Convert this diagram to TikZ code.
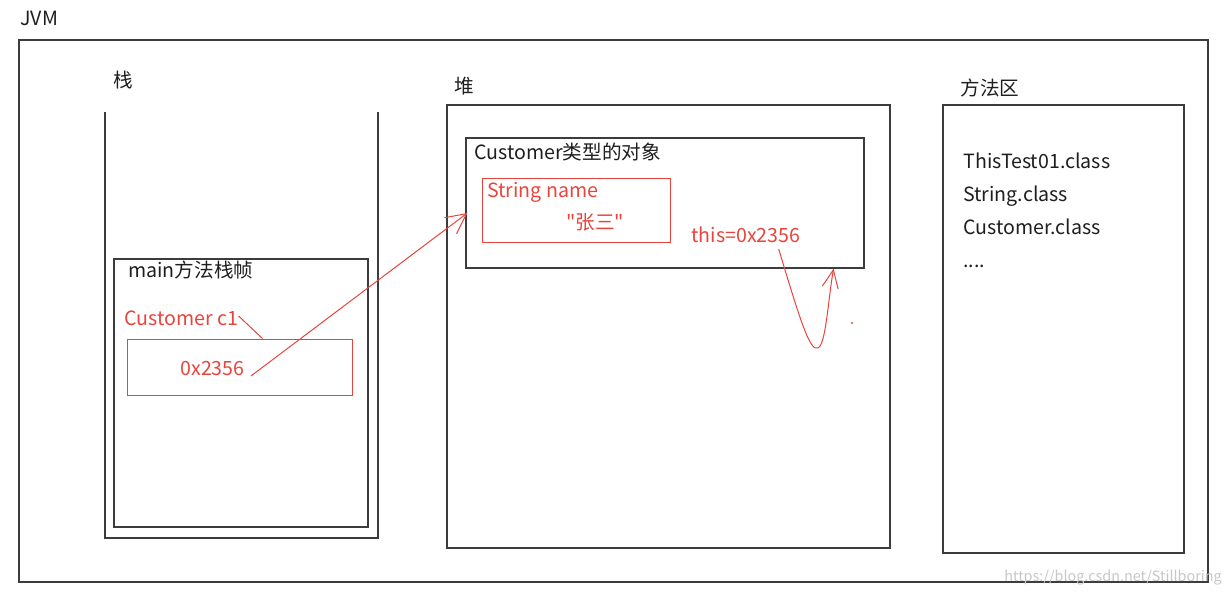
\documentclass[tikz,border=0pt]{standalone}
\usepackage{fontspec}
\setmainfont{Noto Sans CJK SC}[Ligatures=TeXOff]
\usetikzlibrary{arrows.meta,calc}
\definecolor{rosso}{RGB}{232,68,60}
\definecolor{bordo}{RGB}{60,60,60}
\definecolor{testo}{RGB}{30,30,30}
\tikzset{
    box/.style={draw=bordo, line width=0.6pt, inner sep=0pt},
    rbox/.style={draw=rosso, line width=0.5pt, inner sep=0pt},
    lbl/.style={anchor=west, inner sep=0pt, yshift=-1pt, text height=7.5pt, text depth=2pt, text=testo, font=\fontsize{9.8}{11}\selectfont},
    rlbl/.style={lbl, text=rosso},
    rline/.style={draw=rosso, line width=0.5pt}
}
\begin{document}
\begin{tikzpicture}[x=0.5pt, y=-0.5pt]
    \useasboundingbox (0,0) rectangle (1228,595);
    %riquadro JVM
    \node[lbl] (jvmlbl) at (20,18) {JVM};
    \node[box, minimum width=594.5pt, minimum height=271pt] (jvm) at (613.5,311) {};
    
    %stack aperto in alto
    \node[lbl] (stacklbl) at (113,80) {栈};
    \draw[bordo, line width=0.6pt] (105,112) -- (105,538) -- (378,538) -- (378,112);
    \node[box, minimum width=127pt, minimum height=134pt] (frame) at (241,393) {};
    \node[lbl] (framelbl) at (128,270) {main方法栈帧};
    \node[rlbl] (c1) at (124,318) {Customer c1};
    \node[rbox, minimum width=112.5pt, minimum height=28pt] (addrbox) at (239.5,367) {};
    \node[rlbl] (addr) at (180,368) {0x2356};
    
    %heap
    \node[lbl] (heaplbl) at (454,86) {堆};
    \node[box, minimum width=221.5pt, minimum height=221.5pt] (heap) at (668.5,326.5) {};
    \node[box, minimum width=199pt, minimum height=65pt] (obj) at (665,203) {};
    \node[lbl] (objlbl) at (474,152) {Customer类型的对象};
    \node[rbox, minimum width=94pt, minimum height=32pt] (namebox) at (576,210) {};
    \node[rlbl] (namelbl) at (487,190) {String name};
    \node[rlbl] (nameval) at (566,222) {"张三"};
    \node[rlbl] (this) at (691,235) {this=0x2356};
    
    %area dei metodi
    \node[lbl] (methodlbl) at (960,88) {方法区};
    \node[box, minimum width=120.5pt, minimum height=224pt] (method) at (1063.5,329) {};
    \node[lbl] (cls1) at (963,161) {ThisTest01.class};
    \node[lbl] (cls2) at (963,194) {String.class};
    \node[lbl] (cls3) at (963,227) {Customer.class};
    \node[lbl] (cls4) at (963,260) {....};
    
    %freccie
    \draw[rline] ($(c1.east)+(0,-4)$) -- ($(addrbox.north west)+(136,0)$);
    \draw[rline, -{Straight Barb[length=10pt, width=10pt]}] ($(addr.east)+(6,6)$) -- ($(obj.west)+(2,10)$);
    \draw[rline, -{Straight Barb[length=9pt, width=8pt]}] ($(this.south east)+(-22,2)$)
        .. controls (800,320) and (810,352) .. (818,348)
        .. controls (826,344) and (828,300) .. ($(obj.south east)+(-31,0)$);
    \fill[rosso] (852,323) circle (0.6pt);
    
    %watermark
    \node[anchor=west, inner sep=0pt, text=black!22, font=\fontsize{7.2}{9}\selectfont] (wm) at (1004,578) {https://blog.csdn.net/Stillboring};
    
\end{tikzpicture}
\end{document}
